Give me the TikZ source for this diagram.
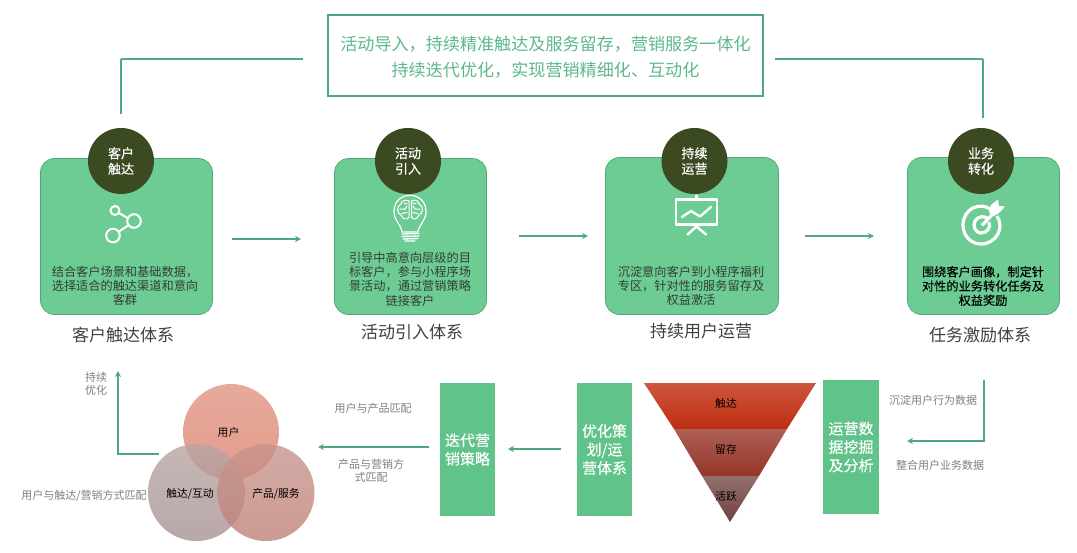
\documentclass[tikz,border=0pt]{standalone}
\usepackage{fontspec}
\setmainfont{Noto Sans CJK SC}
\newfontfamily\medfont[FakeBold=0.3]{Noto Sans CJK SC}
\newfontfamily\lightbold[FakeBold=0.12]{Noto Sans CJK SC}
\usetikzlibrary{arrows.meta,calc}
\definecolor{gbox}{HTML}{6DCC93}
\definecolor{gedge}{HTML}{4FA878}
\definecolor{gline}{HTML}{50A97C}
\definecolor{gsq}{HTML}{60C38A}
\definecolor{dark}{HTML}{3B4A21}
\definecolor{txt}{HTML}{333D36}
\definecolor{greytxt}{HTML}{7F7F7F}
\definecolor{toptxt}{HTML}{5CB88A}
\definecolor{fa}{HTML}{CD563E}\definecolor{fb}{HTML}{BE2E10}
\definecolor{fc}{HTML}{AD6056}\definecolor{fd}{HTML}{963428}
\definecolor{fe}{HTML}{93706C}\definecolor{ff}{HTML}{704240}
\definecolor{va}{HTML}{E09483}\definecolor{vb}{HTML}{DD836D}
\definecolor{vc}{HTML}{B8A4A4}\definecolor{vd}{HTML}{A69292}
\definecolor{ve}{HTML}{C9948D}\definecolor{vf}{HTML}{BE8177}
\tikzset{x=1pt,y=-1pt,
 card/.style={draw=gedge,line width=.7pt,fill=gbox,rounded corners=14pt},
 badge/.style={circle,fill=dark,minimum size=66pt,inner sep=0pt,text=white,font=\medfont\fontsize{13}{15.5}\selectfont,align=center},
 desc/.style={text=txt,font=\fontsize{12.2}{14.3}\selectfont,align=center,inner sep=0pt},
 title/.style={text=black!75,font=\fontsize{17}{20}\selectfont,inner sep=0pt},
 flow/.style={draw=gline,line width=2pt,-{Stealth[length=6pt,width=6pt]}},
 plain/.style={draw=gline,line width=2.05pt},
 sq/.style={fill=gsq,inner sep=0pt,text=white,font=\medfont\fontsize{15}{18.5}\selectfont,align=center},
 note/.style={text=greytxt,font=\fontsize{11}{13}\selectfont,align=center,inner sep=0pt},
 lab/.style={text=black,font=\fontsize{10.8}{12}\selectfont,inner sep=0pt},
 ic/.style={draw=white,line width=2pt,fill=none,line cap=round,line join=round}}
\begin{document}
\begin{tikzpicture}
\useasboundingbox (0,0) rectangle (1077,552);
% top box
\node[draw=gline,line width=2.05pt,minimum width=435pt,minimum height=81pt,inner sep=0pt] (top) at (545.5,55.5) {};
\node[inner sep=0pt,text=toptxt,align=center,font=\fontsize{17.1}{26}\selectfont] (toptext) at (545.5,57.5) {活动导入，持续精准触达及服务留存，营销服务一体化\\持续迭代优化，实现营销精细化、互动化};
\coordinate (tl) at (303,59); \coordinate (tla) at (121,59); \coordinate (tlb) at (121,114);
\coordinate (tr) at (775,59); \coordinate (tra) at (983,59); \coordinate (trb) at (983,118);
\draw[plain] (tl) -- (tla);
\draw[plain] (tr) -- (tra);
\draw[plain,line width=1.5pt] (tla) -- (tlb);
\draw[plain,line width=1.5pt] (tra) -- (trb);
% cards
\path[card] (40.5,158.5) rectangle (212.5,314.5);
\path[card] (334.5,158.5) rectangle (486.5,314.5);
\path[card] (605.5,157.5) rectangle (778.5,314.5);
\path[card] (907.5,157.5) rectangle (1059.5,314.5);
\node[badge] (b1) at (121,161) {客户\\触达};
\node[badge] (b2) at (408,161) {活动\\引入};
\node[badge] (b3) at (694.5,161) {持续\\运营};
\node[badge] (b4) at (981,161) {业务\\转化};
\node[desc] (d1) at (125,286) {结合客户场景和基础数据，\\选择适合的触达渠道和意向\\客群};
\node[desc] (d2) at (410,279) {引导中高意向层级的目\\标客户，参与小程序场\\景活动，通过营销策略\\链接客户};
\node[desc] (d3) at (691,286) {沉淀意向客户到小程序福利\\专区，针对性的服务留存及\\权益激活};
\node[desc,text=black,font=\lightbold\fontsize{12.2}{14.3}\selectfont] (d4) at (983,286) {围绕客户画像，制定针\\对性的业务转化任务及\\权益奖励};
\node[title] (t1) at (123,335) {客户触达体系};
\node[title] (t2) at (412,332) {活动引入体系};
\node[title] (t3) at (701,331) {持续用户运营};
\node[title] (t4) at (980,335) {任务激励体系};
% icon 1
\begin{scope}[ic]
\draw (115,210.5) circle (4.5);
\draw (134,221) circle (6.8);
\draw (113,235.5) circle (6.8);
\draw (119,213) -- (127.5,218);
\draw (119,231.5) -- (128,225.5);
\end{scope}
% icon 2 bulb
\begin{scope}[ic,line width=1.2pt]
\draw (402,232) .. controls (401,224) and (394,221) .. (394,211.5) .. controls (394,190) and (426,190) .. (426,211.5) .. controls (426,221) and (419,224) .. (418,232) -- cycle;
\draw[line width=1.3pt] (402,234) -- (419,233.5) (402,236.5) -- (419,236) (403,239) -- (418,238.5) (405,241) -- (415,241);
\begin{scope}[line width=1pt]
\draw (409,201) .. controls (405,199) and (401,201) .. (401,204) .. controls (396,206) and (397,214) .. (401,215) .. controls (403,220) and (408,220) .. (409,217) -- cycle;
\draw (411.5,201) .. controls (415,199) and (419,201) .. (419,204) .. controls (424,206) and (423,214) .. (419,215) .. controls (417,220) and (412,220) .. (411.5,217) -- cycle;
\draw (400,209) -- (405,209) -- (407,206) (404,203.5) -- (407,203.5) (402,213.5) -- (407,212.5);
\draw (420,209) -- (415,209) -- (413,206) (416,203.5) -- (413,203.5) (418,213.5) -- (413,212.5);
\end{scope}
\end{scope}
% icon 3
\begin{scope}[ic,line width=2.4pt]
\draw (676,199.5) rectangle (717,224.5);
\draw (696.5,195.5) -- (696.5,198);
\draw (682,217) -- (691,211) -- (700,216.5) -- (711,207);
\draw (696.5,226.5) -- (687.5,234.5) (696.5,226.5) -- (706,234.5);
\end{scope}
% icon 4
\begin{scope}[ic,line width=3.2pt,line cap=butt]
\draw (993,211) .. controls (980,200) and (963,209) .. (963,225) .. controls (963,236) and (971,244) .. (981,244) .. controls (996,244) and (1005,228) .. (997,216);
\draw (987,218) .. controls (979,214) and (974,220) .. (974,225) .. controls (974,230) and (978,233) .. (981,233) .. controls (987,233) and (991,228) .. (989,222);
\draw (982,225.5) -- (994,212.5);
\end{scope}
\fill[white] (989,212) -- (991,205) -- (998,199.5) -- (999,206) -- (1005,206.5) -- (999,213) -- (993,216.5) -- cycle;
% arrows between cards
\coordinate (a1s) at (232,239); \coordinate (a1e) at (301,239);
\coordinate (a2s) at (519,236); \coordinate (a2e) at (588,236);
\coordinate (a3s) at (805,236); \coordinate (a3e) at (874,236);
\draw[flow] (a1s) -- (a1e);
\draw[flow] (a2s) -- (a2e);
\draw[flow] (a3s) -- (a3e);
% bottom boxes
\node[sq,minimum width=56pt,minimum height=134pt] (s3) at (851,447) {运营数\\据挖掘\\及分析};
\node[sq,minimum width=55pt,minimum height=133pt] (s2) at (604.5,449.5) {优化策\\划/运\\营体系};
\node[sq,minimum width=55pt,minimum height=133pt] (s1) at (467.5,449.5) {迭代营\\销策略};
% funnel
\shade[top color=fa,bottom color=fb] (644,383) -- (816,383) -- (787,429) -- (674,429) -- cycle;
\shade[top color=fc,bottom color=fd] (674,429) -- (787,429) -- (759,476) -- (702,476) -- cycle;
\shade[top color=fe,bottom color=ff] (702,476) -- (759,476) -- (730,522) -- cycle;
\node[lab] (f1) at (726,403) {触达};
\node[lab] (f2) at (726,449) {留存};
\node[lab] (f3) at (726,496) {活跃};
% venn
\begin{scope}[opacity=.8]
\shade[top color=va,bottom color=vb] (231,432) circle (48);
\shade[top color=vc,bottom color=vd] (196.5,492.5) circle (48.5);
\shade[top color=ve,bottom color=vf] (266,492.5) circle (48.5);
\end{scope}
\node[lab] (v1) at (228.5,432) {用户};
\node[lab] (v2) at (190,494) {触达/互动};
\node[lab] (v3) at (276,494) {产品/服务};
% connectors bottom
\coordinate (r1) at (984,380); \coordinate (r2) at (984,441); \coordinate (r3) at (907,441);
\draw[flow] (r1) -- (r2) -- (r3);
\coordinate (m1s) at (561,449); \coordinate (m1e) at (508,449);
\draw[flow] (m1s) -- (m1e);
\coordinate (m2s) at (429,447); \coordinate (m2e) at (318,447);
\draw[flow] (m2s) -- (m2e);
\coordinate (l1) at (159,454); \coordinate (l2) at (118,454); \coordinate (l3) at (118,371);
\draw[flow] (l1) -- (l2) -- (l3);
% notes
\node[note] (n1) at (933,400) {沉淀用户行为数据};
\node[note] (n2) at (940,465) {整合用户业务数据};
\node[note] (n3) at (373,408) {用户与产品匹配};
\node[note] (n4) at (371,471) {产品与营销方\\式匹配};
\node[note] (n5) at (84,496) {用户与触达/营销方式匹配};
\node[note] (n6) at (96,384) {持续\\优化};
\end{tikzpicture}
\end{document}
